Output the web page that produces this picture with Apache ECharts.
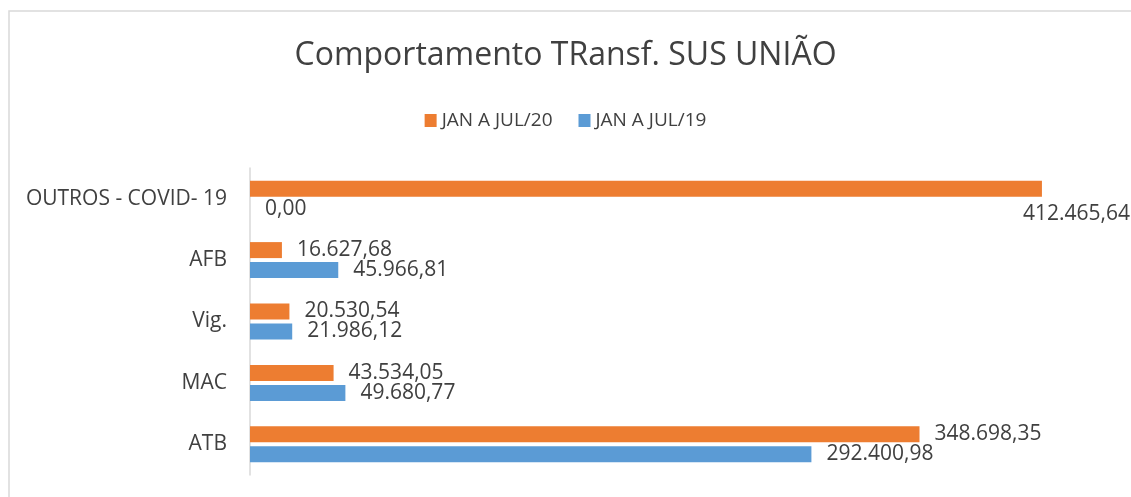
<!DOCTYPE html>
<html>
<head>
<meta charset="utf-8">
<script src="https://cdn.jsdelivr.net/npm/echarts@6/dist/echarts.min.js"></script>
<style>
  html, body { margin: 0; padding: 0; background: #fff; }
  #chart { width: 1131px; height: 497px; }
</style>
</head>
<body>
<div id="chart"></div>
<script>
// Categories bottom-to-top (ECharts category y axis starts at the bottom)
const categories = ["ATB", "MAC", "Vig.", "AFB", "OUTROS - COVID- 19"];
const jul20 = [348698.35, 43534.05, 20530.54, 16627.68, 412465.64];
const jul19 = [292400.98, 49680.77, 21986.12, 45966.81, 0];

const ORANGE = "#ED7D31";
const BLUE = "#5B9BD5";
const TEXT = "#404040";
const FONT = "'Open Sans', sans-serif";

// Brazilian number format: 412.465,64
function formatBR(v) {
  const parts = v.toFixed(2).split(".");
  const int = parts[0].replace(/\B(?=(\d{3})+(?!\d))/g, ".");
  return int + "," + parts[1];
}

const labelStyle = {
  show: true,
  position: "right",
  distance: 15,
  color: TEXT,
  fontFamily: FONT,
  fontSize: 21,
  formatter: (p) => formatBR(p.value),
};

const chart = echarts.init(document.getElementById("chart"));

chart.setOption({
  animation: false,
  backgroundColor: "#fff",
  graphic: [
    {
      type: "rect",
      shape: { x: 9, y: 11, width: 1140, height: 500 },
      style: { fill: "none", stroke: "#D9D9D9", lineWidth: 1.5 },
      silent: true,
    },
  ],
  title: {
    text: "Comportamento TRansf. SUS UNIÃO",
    left: "center",
    top: 35,
    textStyle: {
      color: TEXT,
      fontFamily: FONT,
      fontSize: 32,
      fontWeight: "normal",
    },
  },
  legend: {
    data: ["JAN A JUL/20", "JAN A JUL/19"],
    top: 106,
    left: "center",
    itemWidth: 12,
    itemHeight: 13,
    itemGap: 26,
    icon: "rect",
    textStyle: { color: TEXT, fontFamily: FONT, fontSize: 19 },
  },
  grid: { left: 250, top: 168, height: 307, width: 864 },
  xAxis: {
    type: "value",
    min: 0,
    max: 450000,
    show: false,
  },
  yAxis: {
    type: "category",
    data: categories,
    axisLine: { show: true, lineStyle: { color: "#D9D9D9", width: 1.5 } },
    axisTick: { show: false },
    axisLabel: {
      color: TEXT,
      fontFamily: FONT,
      fontSize: 21,
      margin: 23,
    },
  },
  series: [
    {
      name: "JAN A JUL/20",
      type: "bar",
      data: jul20.map((v, i) =>
        i === 4
          ? { value: v, label: { offset: [-34, 25] } }
          : v
      ),
      barWidth: 16,
      barGap: "25%",
      itemStyle: { color: ORANGE },
      label: labelStyle,
    },
    {
      name: "JAN A JUL/19",
      type: "bar",
      data: jul19,
      barWidth: 16,
      barGap: "25%",
      itemStyle: { color: BLUE },
      label: labelStyle,
    },
  ],
});
</script>
</body>
</html>
